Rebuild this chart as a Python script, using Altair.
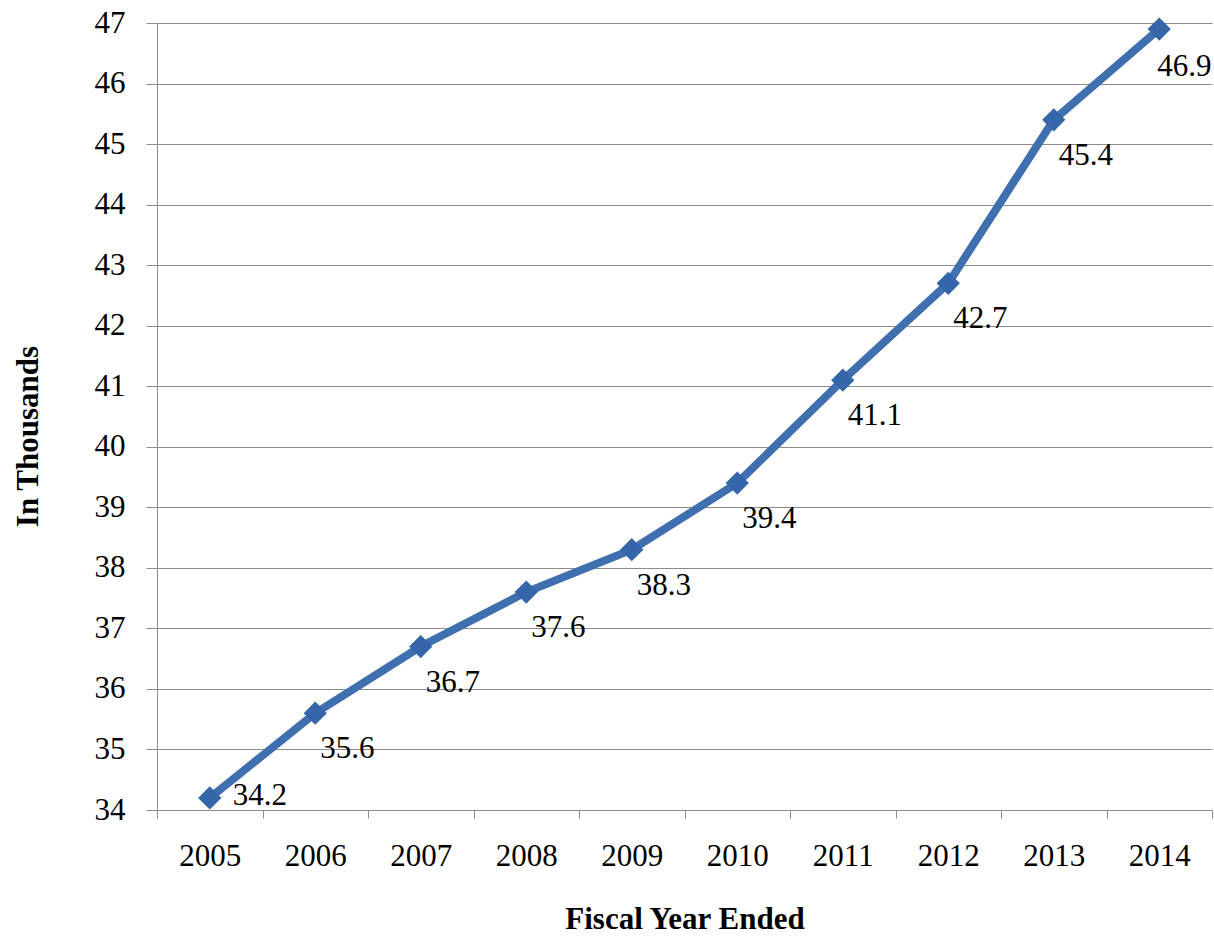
import altair as alt
import pandas as pd

# Fiscal years and headcount (in thousands)
years = ["2005", "2006", "2007", "2008", "2009", "2010", "2011", "2012", "2013", "2014"]
values = [34.2, 35.6, 36.7, 37.6, 38.3, 39.4, 41.1, 42.7, 45.4, 46.9]
y_ticks = list(range(34, 48))

df = pd.DataFrame({"year": years, "value": values})

FONT = "Liberation Serif"
LINE_BLUE = "#3F6FAF"
MARK_BLUE = "#3566AA"
GRID_GRAY = "#8C8C8C"

x_enc = alt.X(
    "year:N",
    sort=years,
    scale=alt.Scale(paddingInner=0, paddingOuter=0),
    axis=alt.Axis(
        title="Fiscal Year Ended",
        labelAngle=0,
        tickBand="extent",
        tickSize=8,
        tickColor=GRID_GRAY,
        domainColor=GRID_GRAY,
        grid=False,
        labelFont=FONT,
        labelFontSize=31,
        labelColor="black",
        labelBaseline="alphabetic",
        labelPadding=47,
        titleFont=FONT,
        titleFontSize=31,
        titleFontWeight="bold",
        titleColor="black",
        titleBaseline="alphabetic",
        titleY=118,
    ),
)

y_enc = alt.Y(
    "value:Q",
    scale=alt.Scale(domain=[34, 47], nice=False, zero=False),
    axis=alt.Axis(
        title="In Thousands",
        values=y_ticks,
        format="d",
        tickSize=11,
        tickColor=GRID_GRAY,
        domainColor=GRID_GRAY,
        gridColor=GRID_GRAY,
        gridWidth=1,
        labelFont=FONT,
        labelFontSize=31,
        labelColor="black",
        labelPadding=21,
        titleFont=FONT,
        titleFontSize=31,
        titleFontWeight="bold",
        titleColor="black",
        titleBaseline="middle",
        titleX=-129,
        titleY=413,
    ),
)

base = alt.Chart(df).encode(x=x_enc, y=y_enc)

line = base.mark_line(color=LINE_BLUE, strokeWidth=8)
points = base.mark_point(shape="diamond", filled=True, size=540, color=MARK_BLUE, opacity=1)

# Value labels: the first sits beside its point, the others below-right,
# and the last is pulled in so it stays inside the chart.
label_style = dict(font=FONT, fontSize=31, color="black", align="left", baseline="middle")
text_enc = dict(
    x=alt.X("year:N", sort=years),
    y="value:Q",
    text=alt.Text("value:Q", format=".1f"),
)
labels_first = alt.Chart(df.iloc[:1]).mark_text(dx=23, dy=-2, **label_style).encode(**text_enc)
labels_mid = alt.Chart(df.iloc[1:-1]).mark_text(dx=5, dy=36, **label_style).encode(**text_enc)
labels_last = alt.Chart(df.iloc[-1:]).mark_text(dx=-2, dy=38, **label_style).encode(**text_enc)

chart = (
    alt.layer(line, points, labels_first, labels_mid, labels_last)
    .properties(
        width=1055,
        height=787,
        autosize=alt.AutoSizeParams(type="none"),
        padding={"left": 157, "top": 23, "right": 2, "bottom": 133},
        background="white",
    )
    .configure_view(stroke=None)
)

chart.save("out.html", embed_options={"renderer": "svg", "actions": False})
